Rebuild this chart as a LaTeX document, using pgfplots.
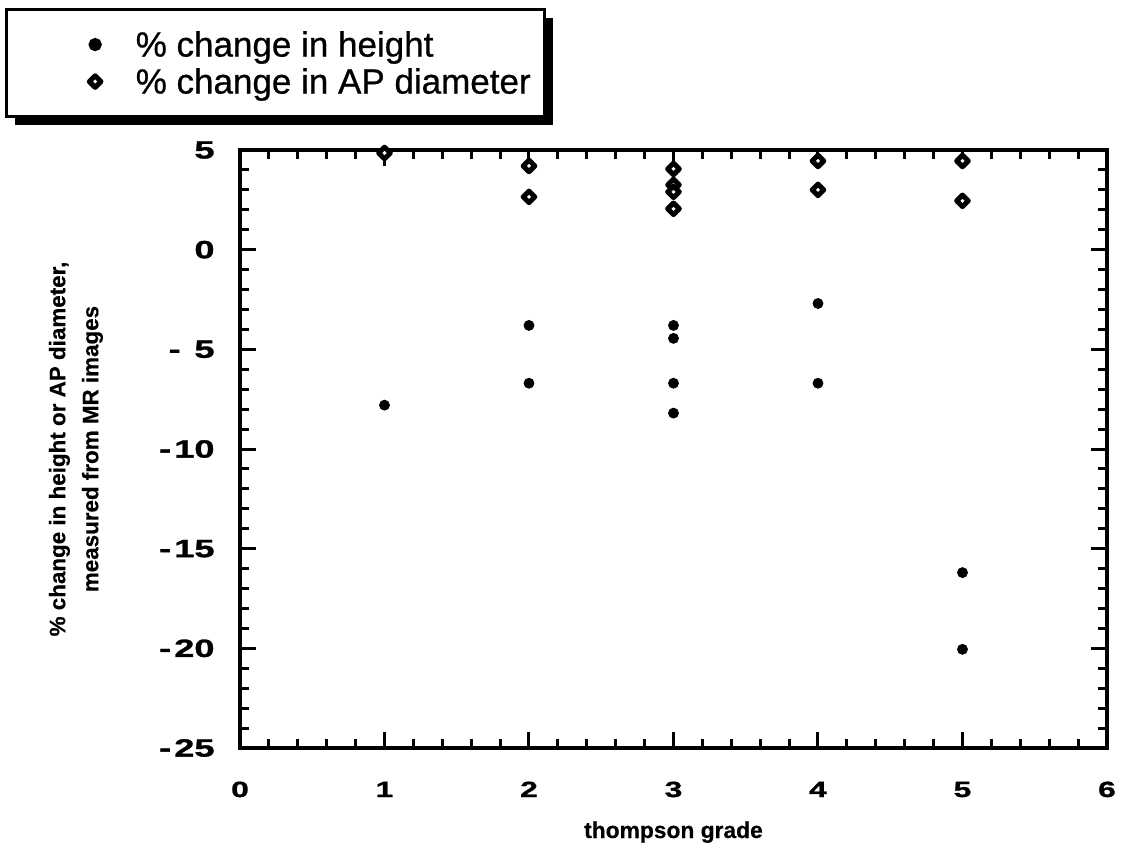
\documentclass[border=0pt]{standalone}
\usepackage{pgfplots}
\pgfplotsset{compat=1.18}
\usepackage{fontspec}
\setmainfont{Liberation Sans}
\newfontfamily\tickfont{Liberation Sans Bold}[FakeStretch=1.45, FakeBold=1.2]
\newfontfamily\legfont{Liberation Sans}[FakeBold=0.7]
\newfontfamily\labfont{Liberation Sans Bold}[FakeBold=0.4]
\usetikzlibrary{shadows}
\pgfplotstableread{
x y
1 -7.8
2 -3.8
2 -6.7
3 -3.8
3 -4.45
3 -6.7
3 -8.2
4 -2.7
4 -6.7
5 -16.2
5 -20.05
}\heighttab
\pgfplotstableread{
x y
1 4.85
2 4.2
2 2.65
3 4.05
3 3.25
3 2.9
3 2.05
4 4.45
4 3.0
5 4.45
5 2.45
}\aptab
\begin{document}
\begin{tikzpicture}
\useasboundingbox (0,0) rectangle (562.5pt,426pt);
\begin{axis}[
  at={(120pt,52pt)}, anchor=south west,
  scale only axis, width=433.5pt, height=299pt,
  xmin=0, xmax=6, ymin=-25, ymax=5,
  clip=false,
  xtick={0,1,2,3,4,5,6},
  xticklabels={0,1,2,3,4,5,6},
  ytick={-25,-20,-15,-10,-5,0,5},
  yticklabels={{-\kern0.12em25},{-\kern0.12em20},{-\kern0.12em15},{-\kern0.12em10},{-\kern0.55em5},{0},{5}},
  minor x tick num=4, minor y tick num=4,
  tick align=inside, tick pos=both,
  major tick length=8pt, minor tick length=4.5pt,
  axis line style={line width=1.6pt},
  every tick/.style={line width=1.5pt, black},
  /pgf/number format/assume math mode=true,
  xticklabel style={font=\tickfont\fontsize{11}{13}\selectfont, anchor=base, inner sep=0pt, yshift=-24.5pt},
  yticklabel style={font=\tickfont\fontsize{12.5}{14}\selectfont, anchor=east, inner sep=0pt, xshift=-12.5pt},
  xlabel={thompson grade},
  xlabel style={font=\labfont\fontsize{11.4}{13}\selectfont, at={(axis description cs:0.5,-0.1505)}, anchor=base},
  ylabel={\% change in height or AP diameter,\\measured from MR images},
  ylabel style={font=\labfont\fontsize{11.2}{16.5}\selectfont, align=center, at={(axis description cs:-0.1892,0.5)}, anchor=center},
  legend style={at={(axis description cs:-0.2711,1.2375)}, anchor=north west,
    draw=black, line width=1.6pt, fill=white,
    drop shadow={shadow xshift=4pt, shadow yshift=-4pt, fill=black, opacity=1},
    font=\legfont\fontsize{17.5}{21}\selectfont,
    inner xsep=2pt, inner ysep=8.5pt, row sep=0.5pt,
    nodes={text height=14pt, text depth=2pt, inner ysep=1pt, inner xsep=5pt}},
  legend cell align=left,
  legend image code/.code={\path (0pt,0pt) (56pt,0pt); \draw[#1] plot coordinates {(41.5pt,0pt)};},
]
\addplot[only marks, mark=*, mark size=2.5pt, draw=black, fill=black] table[x=x,y=y] {\heighttab};
\addlegendentry{\% change in height}
\addplot[only marks, mark=square*, mark size=2.05pt, mark options={rotate=45, line width=2.5pt, line join=round, draw=black, fill=white}] table[x=x,y=y] {\aptab};
\addlegendentry{\% change in AP diameter}
\end{axis}
\end{tikzpicture}
\end{document}
